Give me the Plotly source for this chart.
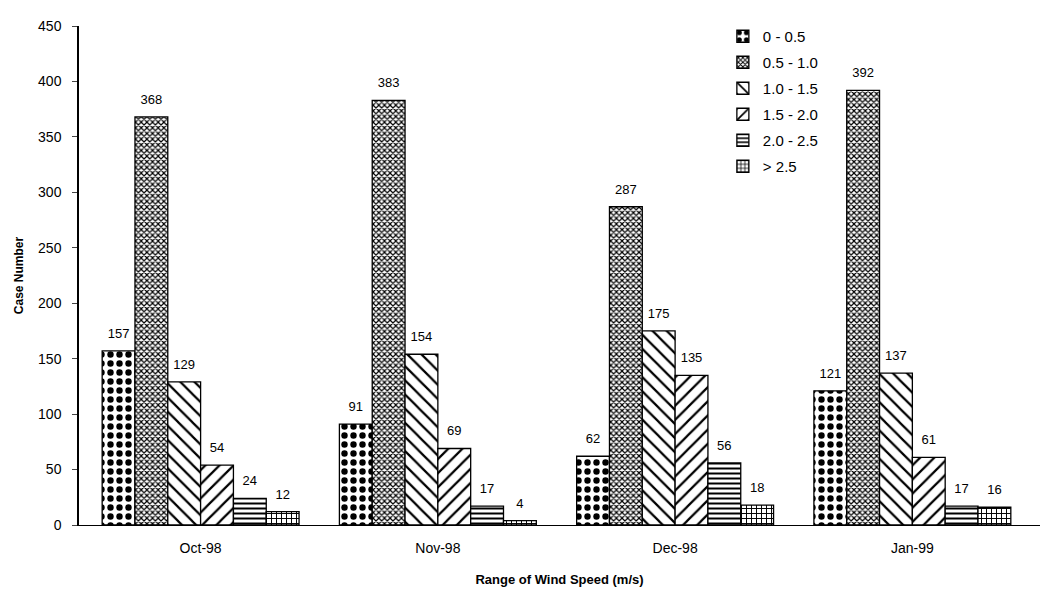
import plotly.graph_objects as go

months = ["Oct-98", "Nov-98", "Dec-98", "Jan-99"]
ranges = ["0 - 0.5", "0.5 - 1.0", "1.0 - 1.5", "1.5 - 2.0", "2.0 - 2.5", "> 2.5"]
v_0_05 = [157, 91, 62, 121]
v_05_10 = [368, 383, 287, 392]
v_10_15 = [129, 154, 175, 137]
v_15_20 = [54, 69, 135, 61]
v_20_25 = [24, 17, 56, 17]
v_gt25 = [12, 4, 18, 16]
series = [v_0_05, v_05_10, v_10_15, v_15_20, v_20_25, v_gt25]

patterns = [
    dict(shape=".", size=9, solidity=0.4),
    dict(shape="x", size=4, solidity=0.5),
    dict(shape="\\", size=10, solidity=0.22),
    dict(shape="/", size=10, solidity=0.22),
    dict(shape="-", size=5, solidity=0.4),
    dict(shape="+", size=5, solidity=0.35),
]

FONT = "Liberation Sans, Arial, sans-serif"
fig = go.Figure()
for i, (name, vals, pat) in enumerate(zip(ranges, series, patterns)):
    fig.add_trace(go.Bar(
        x=months, y=vals, name=name, legendgroup=f"g{i}",
        marker=dict(color="white", line=dict(color="black", width=1.3),
                    pattern=dict(fgcolor="black", bgcolor="white", fgopacity=1,
                                 fillmode="overlay", **pat)),
    ))
for i, (name, vals) in enumerate(zip(ranges, series)):
    fig.add_trace(go.Scatter(
        x=months, y=vals, mode="markers+text", showlegend=False, hoverinfo="skip",
        text=[str(v) for v in vals], textposition="top center",
        textfont=dict(size=13, color="black", family=FONT),
        marker=dict(size=14, color="rgba(0,0,0,0)"), cliponaxis=False,
    ))

fig.update_layout(
    width=1048, height=594,
    barmode="group", bargap=0.17, bargroupgap=0,
    scattermode="group", scattergap=0.17,
    plot_bgcolor="white", paper_bgcolor="white",
    font=dict(family=FONT, size=12, color="black"),
    margin=dict(l=68, r=16, t=10, b=77),
    legend=dict(x=0.670, y=1.012, xanchor="left", yanchor="top",
                font=dict(size=15), bgcolor="rgba(0,0,0,0)", itemwidth=30,
                tracegroupgap=3.5),
    xaxis=dict(range=[-0.5126, 3.538], showline=True, linecolor="black", linewidth=1,
               ticks="", tickfont=dict(size=14), ticklabelstandoff=10,
               title=dict(text="<b>Range of Wind Speed (m/s)</b>", font=dict(size=13), standoff=20)),
    yaxis=dict(range=[0, 450], dtick=50, showline=True, linecolor="black", linewidth=1.5,
               ticks="outside", ticklen=5, ticklabelstandoff=8, showgrid=False, zeroline=False,
               tickfont=dict(size=14),
               title=dict(text="<b>Case Number</b>", font=dict(size=12), standoff=12)),
)

fig.write_html("out.html")
